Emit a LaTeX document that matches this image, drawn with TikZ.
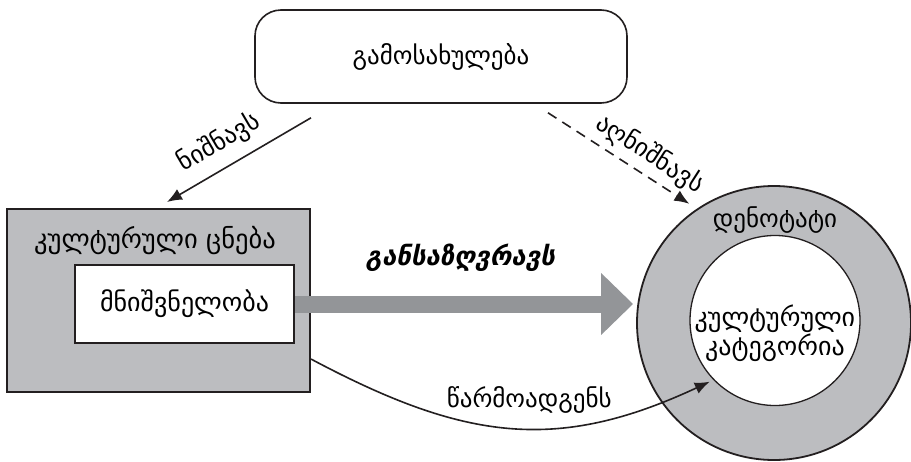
\documentclass[tikz,border=0pt]{standalone}
\usepackage{fontspec}
\setmainfont{DejaVu Sans}
\definecolor{ringgray}{RGB}{188, 189, 192}
\definecolor{arrowgray}{RGB}{147, 149, 152}
\definecolor{inkblack}{RGB}{35, 31, 32}
\usetikzlibrary{shapes,arrows.meta}
\tikzstyle{sourcebox} = [rectangle, draw=inkblack, line width=1.6pt, rounded corners=26pt,
    minimum width=372pt, minimum height=93pt, font=\fontsize{25}{29}\selectfont]
\tikzstyle{conceptbox} = [rectangle, draw=inkblack, line width=2pt, fill=ringgray,
    minimum width=303pt, minimum height=183pt]
\tikzstyle{meaningbox} = [rectangle, draw=inkblack, line width=2pt, fill=white,
    minimum width=219pt, minimum height=78pt, font=\fontsize{26}{30}\selectfont]
\tikzstyle{ring} = [circle, draw=inkblack, line width=1.8pt, fill=ringgray,
    minimum size=274pt, inner sep=0pt]
\tikzstyle{core} = [circle, draw=inkblack, line width=1.3pt, fill=white,
    minimum size=170pt, inner sep=0pt]
\tikzstyle{caption} = [font=\fontsize{25}{29}\selectfont, inner sep=2pt]
\tikzstyle{line} = [draw=inkblack, line width=1.6pt, -{Latex[length=15pt,width=12pt]}]
\tikzstyle{dashline} = [line, dash pattern=on 10pt off 7pt]
\tikzstyle{bigarrow} = [draw=arrowgray, line width=17pt, -{Triangle[length=32pt,width=60pt]}]

\begin{document}
\begin{tikzpicture}[x=1pt, y=-1pt]
  \fill[white] (0,0) rectangle (911,461);
  \useasboundingbox (0,0) rectangle (911,461);
  \node [sourcebox] (expr) at (441,56.5) {გამოსახულება};
  \node [conceptbox] (concept) at (158.5,300.5) {};
  \node [caption, font=\fontsize{26.5}{30}\selectfont] (concept_title) at (155,241)
    {კულტურული ცნება};
  \node [meaningbox] (meaning) at (184.5,304) {მნიშვნელობა};
  \node [ring] (denot) at (774,323) {};
  \node [caption] (denot_title) at (775,220) {დენოტატი};
  \node [core] (categ) at (775,320.5) {};
  \node [caption, align=center, font=\fontsize{26}{29}\selectfont] (categ_text) at (775,333)
    {კულტურული\\კატეგორია};
  \path [line] ([xshift=-130pt,yshift=-14pt]expr.south) --
    node[pos=0.55, above=9pt, sloped, caption]{ნიშნავს}
    ([xshift=8.5pt,yshift=6pt]concept.north);
  \path [dashline, shorten >=9pt] ([xshift=107pt,yshift=-9pt]expr.south) --
    node[pos=0.61, above=4pt, sloped, caption]{აღნიშნავს} (denot.124);
  \path [bigarrow, shorten >=3pt] (meaning.east) --
    node[pos=0.485, above=22pt, inner sep=2pt,
      font=\fontsize{26}{30}\selectfont\bfseries\itshape]{განსაზღვრავს}
    (meaning.east -| denot.west);
  \path [line, shorten >=4pt] (concept.-21) to[out=-28, in=205, looseness=1.1]
    node[pos=0.55, above=12pt, caption]{წარმოადგენს} (categ.224);
\end{tikzpicture}
\end{document}
